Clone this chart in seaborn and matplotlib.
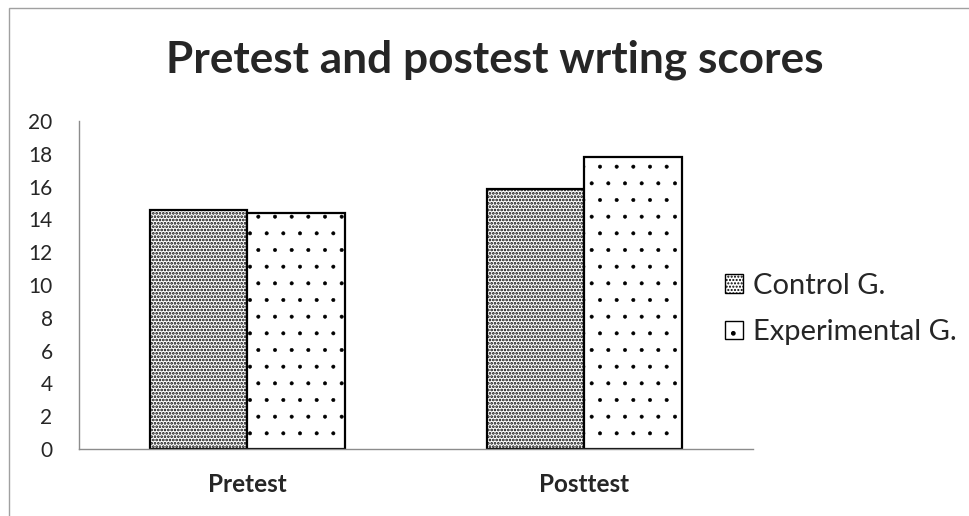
import matplotlib
matplotlib.use("Agg")
import matplotlib.pyplot as plt
import seaborn as sns
import pandas as pd
from matplotlib.patches import Patch, Rectangle

# data
tests = ["Pretest", "Posttest"]
groups = ["Control G.", "Experimental G."]
control_scores = [14.6, 15.85]
experimental_scores = [14.4, 17.8]
y_ticks = list(range(0, 21, 2))

df = pd.DataFrame({
    "Test": tests * 2,
    "Group": [groups[0]] * 2 + [groups[1]] * 2,
    "Score": control_scores + experimental_scores,
})

sns.set_style("white")
plt.rcParams["font.family"] = ["Lato", "DejaVu Sans"]

fig = plt.figure(figsize=(9.7, 5.16), dpi=100)
ax = fig.add_axes([0.0814, 0.1298, 0.6946, 0.6357])

sns.barplot(data=df, x="Test", y="Score", hue="Group", order=tests, hue_order=groups,
            palette=["white", "white"], width=0.58, gap=0, edgecolor="black",
            linewidth=1.6, errorbar=None, ax=ax, legend=False)

hatches = {groups[0]: ".....", groups[1]: "."}
hatch_lw = {groups[0]: 1.3, groups[1]: 0.4}


def style_hatch(p, g):
    p.set_hatch(hatches[g])
    try:
        p.set_hatch_linewidth(hatch_lw[g])
    except AttributeError:
        pass


for i, bar in enumerate(ax.patches):
    style_hatch(bar, groups[i // len(tests)])

ax.set_ylim(0, 20)
ax.set_yticks(y_ticks)
ax.set_xlim(-0.5, 1.5)
ax.set_xlabel("")
ax.set_ylabel("")
ax.tick_params(axis="y", labelsize=15, length=0, pad=19)
ax.tick_params(axis="x", labelsize=17.5, length=0, pad=17)
for lbl in ax.get_xticklabels():
    lbl.set_fontweight("bold")
for s in ["top", "right"]:
    ax.spines[s].set_visible(False)
for s in ["left", "bottom"]:
    ax.spines[s].set_color("#8c8c8c")
    ax.spines[s].set_linewidth(1.0)

handles = [Patch(facecolor="white", edgecolor="black", label=g) for g in groups]
for h, g in zip(handles, groups):
    style_hatch(h, g)
fig.legend(handles=handles, loc="center left", bbox_to_anchor=(0.7205, 0.401), frameon=False,
           fontsize=21, handlelength=0.6, handleheight=0.6, handletextpad=0.35, labelspacing=0.7)

fig.text(0.51, 0.885, "Pretest and postest wrting scores", ha="center", va="center",
         fontsize=31.8, fontweight="bold")

# outer chart border
fig.patches.append(Rectangle((9 / 970, -0.1), 1.2, 1.1 - 8 / 516, transform=fig.transFigure,
                             fill=False, edgecolor="#a0a0a0", linewidth=1.0))

fig.savefig("out.png", dpi=100)
